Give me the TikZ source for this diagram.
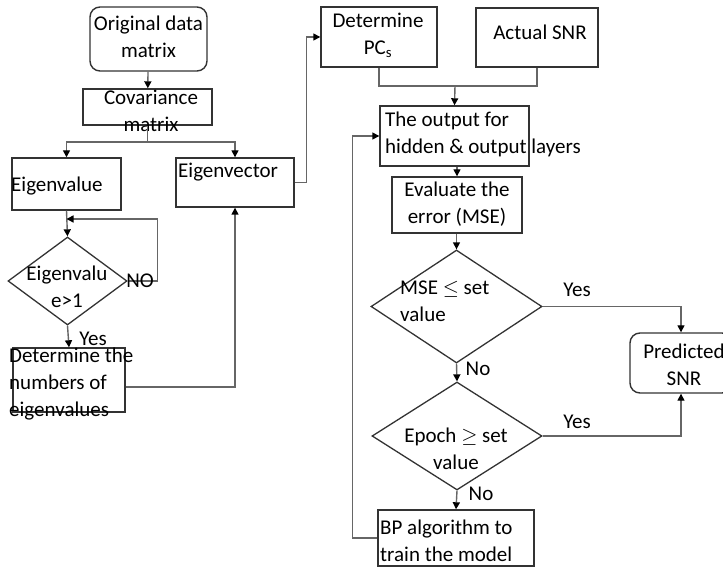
\documentclass[tikz,border=0pt]{standalone}
\usepackage{fontspec}
\setmainfont{Carlito}
\usetikzlibrary{shapes.geometric,arrows.meta}
\begin{document}
\begin{tikzpicture}[x=1pt,y=-1pt,
  every node/.style={font=\fontsize{21}{27}\selectfont, inner sep=0pt},
  box/.style={draw=black!80, line width=1.4pt, rectangle},
  rbox/.style={box, rounded corners=10pt},
  dia/.style={draw=black!80, line width=1.3pt, diamond},
  txt/.style={align=center},
  ltxt/.style={align=left, anchor=west},
  conn/.style={draw=black!60, line width=1.4pt},
  arr/.style={conn, -{Triangle[length=7pt,width=7pt,color=black]}}
]
\useasboundingbox (0,0) rectangle (723,569);

% Left column
\node[rbox, minimum width=117pt, minimum height=64pt] (orig) at (148.5,39) {};
\node[txt] (torig) at (148.5,37) {Original data\\matrix};

\node[box, minimum width=129pt, minimum height=36pt] (cov) at (147.5,107) {};
\node[txt] (tcov) at (151,111) {Covariance\\matrix};

\node[box, minimum width=109pt, minimum height=52pt] (eval) at (66.5,184) {};
\node[ltxt] (teval) at (11,186) {Eigenvalue};

\node[box, minimum width=118pt, minimum height=49pt] (evec) at (235,182.5) {};
\node[ltxt] (tevec) at (178,172) {Eigenvector};

\node[dia, minimum width=119pt, minimum height=88pt] (d1) at (67.5,281) {};
\node[txt] (td1) at (67,287) {Eigenvalu\\e>1};

\node[box, minimum width=112pt, minimum height=64pt] (det) at (69,380) {};
\node[ltxt] (tdet) at (9,384) {Determine the\\numbers of\\eigenvalues};

% Right column
\node[box, minimum width=116pt, minimum height=60pt] (pcs) at (379,37) {};
\node[txt] (tpcs) at (378,35) {Determine\\PC$_{\mathrm{s}}$};

\node[box, minimum width=122pt, minimum height=59pt] (asnr) at (537,37.5) {};
\node[txt] (tasnr) at (540,32) {Actual SNR};

\node[box, minimum width=149pt, minimum height=60pt] (out) at (454.5,136) {};
\node[ltxt] (tout) at (385,134) {The output for\\hidden \& output layers};

\node[box, minimum width=130pt, minimum height=56pt] (evalmse) at (457,205) {};
\node[txt] (tevalmse) at (457,204) {Evaluate the\\error (MSE)};

\node[dia, minimum width=171pt, minimum height=113pt] (mse) at (456.5,306.5) {};
\node[ltxt] (tmse) at (400,301) {MSE $\leq$ set\\value};

\node[dia, minimum width=170pt, minimum height=108pt] (epoch) at (457,436) {};
\node[txt] (tepoch) at (456,449) {Epoch $\geq$ set\\value};

\node[rbox, minimum width=102pt, minimum height=60pt] (pred) at (681,363) {};
\node[txt] (tpred) at (684,365) {Predicted\\SNR};

\node[box, minimum width=156pt, minimum height=56pt] (bp) at (456,538) {};
\node[ltxt] (tbp) at (380,541) {BP algorithm to\\train the model};

% Connectors, left
\draw[arr] (orig) -- (cov);
\coordinate (split) at (147.5,142);
\draw[conn] (cov.south) -- (split);
\draw[arr] (split) -| (eval.north);
\draw[arr] (split) -| (evec.north);
\draw[arr] (eval.south) -- (d1.north);
\coordinate (loopin) at (66.5,219);
\draw[arr] (d1.east) -- ++(30,0) |- (loopin);
\node (no1) at (140,281) {NO};
\draw[arr] (d1.south) -- (det.north);
\node (yes1) at (93,339) {Yes};
\draw[arr] ([yshift=-7pt]det.east) -| (evec.south);
\draw[arr] (evec.east) -- ++(12,0) |- (pcs.west);

% Connectors, right
\coordinate (merge) at (455,86);
\draw[conn] (pcs.south) |- (merge);
\draw[conn] (asnr.south) |- (merge);
\draw[arr] (merge) -- (out.north);
\draw[arr] (out.south -| evalmse.north) -- (evalmse.north);
\draw[arr] (evalmse.south -| mse.north) -- (mse.north);
\draw[arr] (mse.east) -| (pred.north);
\node (yes2) at (577,290) {Yes};
\draw[arr] (mse.south) -- (epoch.north);
\node (no2) at (478,369) {No};
\draw[arr] (epoch.east) -| (pred.south);
\node (yes3) at (577,422) {Yes};
\draw[arr] (epoch.south) -- (bp.north);
\node (no3) at (481,494) {No};
\draw[arr] (bp.west) -- ++(-25,0) |- (out.west);
\end{tikzpicture}
\end{document}
